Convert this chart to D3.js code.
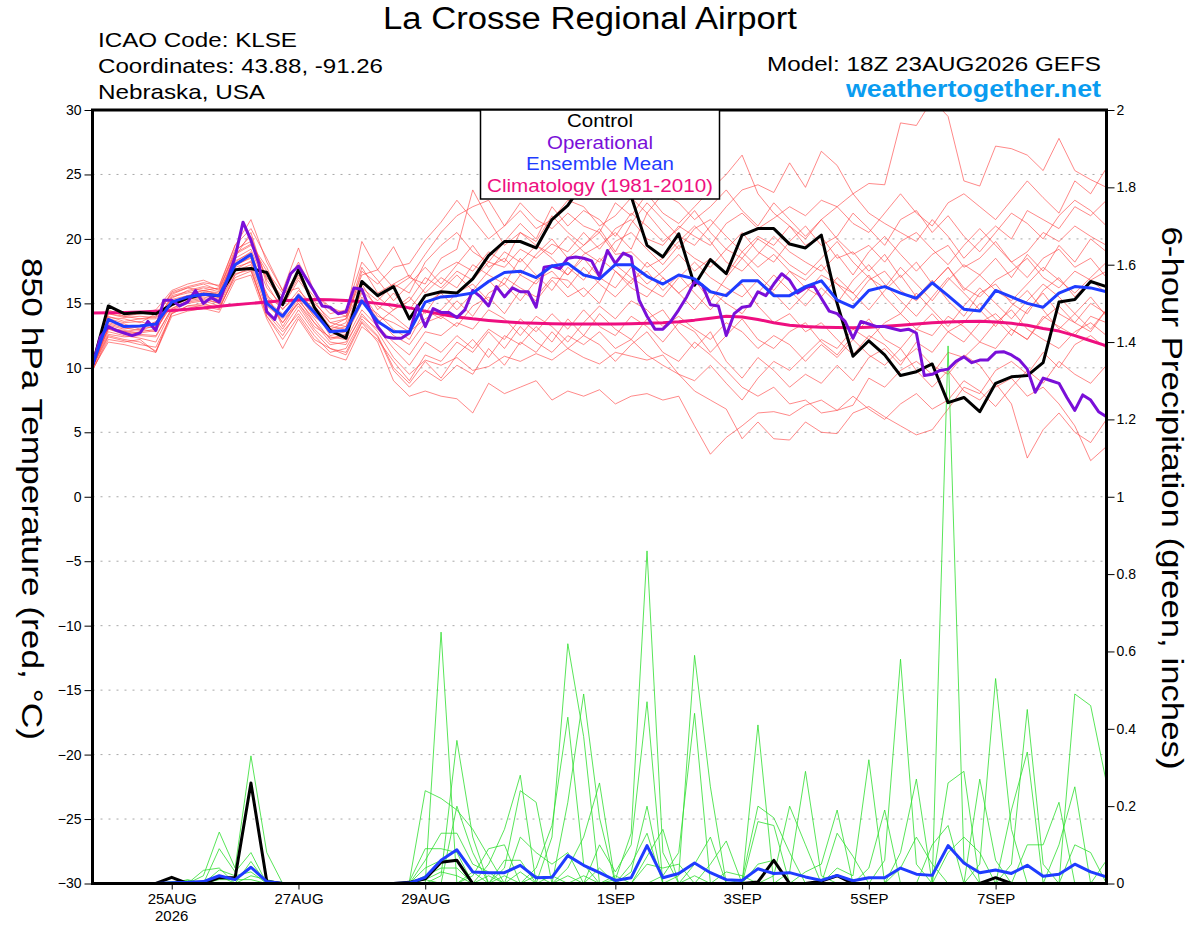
<!DOCTYPE html>
<html>
<head>
<meta charset="utf-8">
<script src="https://cdn.jsdelivr.net/npm/d3@7/dist/d3.min.js"></script>
<style>
body { margin: 0; background: #fff; }
svg text { font-family: "Liberation Sans", Arial, Helvetica, sans-serif; }
</style>
</head>
<body>
<svg id="chart" width="1200" height="927"></svg>
<script>
// ---- data (6-hourly from 18Z 23AUG2026, operational run is 3-hourly) ----
let runStart = '2026-08-23T18'
let tickDates = ['2026-08-25', '2026-08-27', '2026-08-29', '2026-09-01', '2026-09-03', '2026-09-05', '2026-09-07']
let tempTicks = [-30, -25, -20, -15, -10, -5, 0, 5, 10, 15, 20, 25, 30]
let precipTicks = [0, 0.2, 0.4, 0.6, 0.8, 1, 1.2, 1.4, 1.6, 1.8, 2]
let legendLabels = ['Control', 'Operational', 'Ensemble Mean', 'Climatology (1981-2010)']

let controlT = [10.2, 14.8, 14.2, 14.3, 14.2, 14.9, 15.4, 15.7, 15.6, 17.6,
    17.7, 17.4, 14.9, 17.6, 14.7, 12.9, 12.3, 16.7, 15.6, 16.3,
    13.8, 15.6, 15.9, 15.8, 16.9, 18.7, 19.8, 19.8, 19.3, 21.5,
    22.6, 24.4, 25.5, 25.2, 23.3, 19.5, 18.6, 20.4, 16.4, 18.4,
    17.3, 20.3, 20.8, 20.8, 19.6, 19.3, 20.3, 15.0, 10.9, 12.1,
    11.0, 9.4, 9.7, 10.3, 7.3, 7.7, 6.6, 8.8, 9.3, 9.4,
    10.4, 15.1, 15.3, 16.7, 16.3]

let meanT = [10.2, 13.75, 13.2, 13.25, 13.4, 15.1, 15.5, 15.7, 15.6, 18.0,
    18.8, 15.0, 14.0, 15.6, 14.3, 12.8, 12.9, 15.2, 13.6, 12.8,
    12.8, 15.1, 15.5, 15.6, 15.8, 16.7, 17.4, 17.5, 17.0, 17.9,
    18.1, 17.2, 16.9, 18.0, 18.0, 17.1, 16.5, 17.2, 16.9, 15.9,
    15.6, 16.75, 16.75, 15.6, 15.6, 16.3, 16.75, 15.25, 14.7, 16.0,
    16.3, 15.8, 15.4, 16.6, 15.6, 14.55, 14.4, 16.0, 15.5, 15.0,
    14.7, 15.8, 16.3, 16.2, 15.9]

let climT = [14.25, 14.28, 14.3, 14.33, 14.38, 14.45, 14.55, 14.65, 14.78, 14.9,
    15.0, 15.1, 15.2, 15.27, 15.3, 15.28, 15.22, 15.12, 15.0, 14.85,
    14.65, 14.4, 14.15, 13.95, 13.8, 13.68, 13.58, 13.5, 13.45, 13.42,
    13.4, 13.4, 13.4, 13.4, 13.42, 13.45, 13.5, 13.58, 13.7, 13.85,
    14.0, 13.95, 13.75, 13.5, 13.3, 13.2, 13.15, 13.12, 13.1, 13.15,
    13.22, 13.3, 13.4, 13.5, 13.55, 13.6, 13.62, 13.55, 13.45, 13.3,
    13.05, 12.85, 12.5, 12.1, 11.7]

// operational, 3-hourly
let operT = [10.2, 12.4, 13.2, 12.9, 12.7, 12.5, 12.7, 13.6, 12.9, 15.25,
    15.25, 14.8, 15.1, 16.0, 15.0, 15.45, 15.1, 16.8, 18.6, 21.3,
    19.9, 18.1, 14.35, 13.75, 15.6, 17.3, 17.9, 16.9, 15.9, 14.8,
    14.7, 14.2, 14.35, 16.2, 16.1, 14.5, 13.2, 12.4, 12.3, 12.3,
    12.7, 14.8, 13.2, 14.6, 14.3, 14.3, 13.9, 14.5, 16.0, 15.5,
    14.8, 16.3, 15.5, 16.2, 15.9, 15.9, 14.7, 17.8, 17.9, 17.7,
    18.5, 18.6, 18.5, 18.3, 17.1, 19.1, 18.1, 18.9, 18.6, 15.25,
    14.0, 13.0, 13.0, 13.6, 14.5, 15.5, 16.7, 16.4, 14.9, 14.8,
    12.5, 14.2, 14.7, 14.8, 15.9, 15.6, 16.5, 17.3, 16.8, 15.8,
    16.2, 16.4, 15.4, 14.4, 14.2, 13.6, 12.3, 13.6, 13.4, 13.2,
    13.2, 13.05, 12.9, 13.0, 12.7, 9.4, 9.5, 9.8, 9.9, 10.5,
    10.85, 10.4, 10.6, 10.6, 11.2, 11.25, 11.0, 10.6, 9.9, 8.1,
    9.2, 9.0, 8.8, 7.7, 6.7, 7.9, 7.5, 6.6, 6.2]

// perturbed members, 850 hPa temperature
let membersT = [
    [10.0, 12.5, 12.2, 12.0, 11.3, 14.2, 14.8, 15.0, 14.6,
     17.2, 17.8, 14.0, 12.5, 14.5, 12.8, 11.5, 11.0,
     13.5, 12.0, 9.0, 7.8, 8.2, 7.8,
     7.6, 6.5, 8.8, 8.0, 8.5, 9.0, 7.5, 8.2,
     7.8, 8.3, 7.2, 7.8, 8.0, 7.5, 7.8, 5.5,
     3.3, 4.6, 5.5, 6.5, 6.6, 6.3,
     7.1, 7.5, 6.7, 7.1, 9.2, 8.5, 9.8, 10.5,
     9.5, 11.2, 10.8, 12.0, 11.5, 13.0, 12.2, 14.0, 13.2, 12.5, 14.0, 13.5],
    [10.3, 13.0, 12.8, 12.6, 12.5, 14.6, 15.2, 15.4, 15.0,
     18.2, 19.0, 15.5, 13.5, 15.0, 13.5, 12.0, 11.8,
     14.2, 12.8, 10.8, 9.5, 10.6, 10.2,
     10.8, 9.8, 10.1, 10.9, 10.5, 11.1, 10.6, 11.5,
     10.8, 10.3, 11.2, 10.9, 10.6, 11.0, 9.5, 8.2,
     7.5, 6.8, 4.5, 5.8, 4.5, 4.4,
     5.8, 5.0, 4.9, 6.5, 7.0, 6.2, 5.5, 4.8,
     5.2, 6.8, 8.5, 8.0, 9.8, 10.5, 9.5, 11.2, 10.0, 11.8, 12.5, 11.5],
    [10.1, 14.2, 14.0, 13.8, 14.0, 15.8, 16.2, 16.5, 16.0,
     19.0, 20.2, 16.8, 15.2, 17.2, 15.0, 13.8, 14.0,
     16.8, 15.5, 14.5, 15.2, 17.0, 16.2,
     17.5, 16.8, 18.2, 17.8, 19.2, 18.5, 19.6, 19.0,
     20.5, 19.2, 20.8, 21.5, 20.0, 19.5, 21.0, 20.2,
     19.5, 21.2, 22.0, 20.8, 21.6, 22.5,
     21.8, 23.0, 22.5, 23.5, 24.3, 24.2, 29.0, 28.8,
     30.8, 29.5, 24.5, 24.1, 27.2, 27.0, 26.5, 25.3, 27.8, 25.3, 24.6, 24.0],
    [10.0, 13.8, 13.5, 13.6, 13.2, 15.5, 15.8, 16.0, 15.8,
     18.8, 19.5, 17.5, 15.8, 16.2, 14.2, 13.0, 13.5,
     17.5, 16.5, 17.8, 18.1, 19.9, 21.3,
     23.0, 21.5, 20.0, 21.0, 22.8, 21.5, 20.8, 22.0,
     21.0, 20.5, 22.8, 21.8, 23.5, 22.0, 21.2, 22.5,
     23.8, 25.0, 26.5, 23.5, 22.0, 21.0,
     19.5, 20.2, 18.5, 19.0, 17.5, 18.8, 17.0, 18.2,
     16.5, 17.8, 16.0, 17.2, 18.5, 17.0, 18.8, 17.5, 19.5, 18.2, 20.0, 19.0],
    [10.4, 14.5, 14.0, 14.2, 14.5, 16.0, 16.5, 16.8, 16.3,
     19.5, 20.8, 18.5, 16.0, 19.3, 15.8, 14.7, 14.2,
     19.8, 17.6, 16.2, 17.0, 16.5, 18.5,
     19.2, 23.8, 21.5, 19.5, 20.5, 19.8, 21.8, 20.5,
     19.5, 20.8, 19.0, 21.2, 22.8, 21.5, 20.2, 19.5,
     21.0, 22.5, 23.8, 24.2, 23.6, 25.9,
     24.0, 26.8, 25.7, 23.5, 22.0, 21.2, 20.5, 19.8,
     21.5, 20.2, 18.5, 19.8, 21.0, 20.0, 22.2, 21.5, 20.8, 22.5, 21.8, 23.0],
    [9.9, 13.2, 12.8, 13.0, 12.8, 15.2, 15.5, 15.8, 15.4,
     18.0, 18.5, 15.0, 14.0, 15.8, 14.5, 12.5, 12.8,
     15.5, 13.8, 12.5, 11.8, 13.5, 14.0,
     13.2, 14.8, 15.5, 14.2, 16.0, 15.2, 16.8, 15.5,
     16.2, 15.0, 17.5, 16.5, 18.2, 17.0, 15.8, 16.8,
     15.2, 17.0, 18.5, 17.2, 16.0, 17.5,
     16.2, 15.5, 17.0, 15.8, 14.5, 16.0, 17.2, 15.5,
     16.8, 15.2, 14.0, 15.8, 16.5, 15.0, 14.2, 16.0, 17.0, 15.5, 16.8, 17.5],
    [10.0, 12.8, 12.5, 12.3, 12.0, 14.5, 15.0, 15.2, 14.8,
     17.5, 18.0, 14.5, 13.0, 14.8, 13.0, 11.8, 12.0,
     14.0, 13.0, 11.5, 10.2, 12.0, 11.2,
     12.5, 11.5, 13.0, 12.2, 13.8, 12.8, 14.2, 13.0,
     14.5, 13.2, 12.5, 14.0, 13.2, 12.0, 13.5, 12.8,
     11.2, 12.5, 13.8, 12.2, 11.5, 12.8,
     13.5, 12.0, 11.0, 12.5, 13.8, 12.2, 11.5, 13.0,
     14.2, 12.8, 13.5, 15.0, 13.8, 12.5, 14.5, 15.8, 14.2, 13.5, 15.0, 14.2],
    [10.2, 13.5, 13.2, 13.3, 13.5, 15.6, 15.9, 16.2, 15.9,
     18.5, 19.2, 16.2, 14.8, 16.8, 15.2, 13.5, 13.2,
     16.5, 14.5, 15.8, 14.5, 16.2, 17.5,
     18.2, 17.5, 19.0, 18.2, 20.5, 19.5, 18.8, 20.2,
     19.0, 18.2, 19.8, 20.5, 19.2, 18.0, 19.5, 18.5,
     17.8, 19.2, 20.5, 19.0, 18.2, 19.8,
     21.0, 19.5, 20.2, 22.0, 20.8, 19.5, 21.5, 22.2,
     20.5, 21.8, 20.2, 19.0, 20.5, 22.0, 21.2, 20.0, 21.8, 23.0, 22.2, 21.0],
    [10.1, 13.0, 12.6, 12.8, 13.0, 14.8, 15.3, 15.5, 15.2,
     17.8, 18.2, 15.8, 13.2, 15.2, 13.8, 12.2, 12.5,
     15.0, 14.2, 13.0, 12.2, 14.5, 13.8,
     15.2, 14.0, 15.8, 16.5, 15.2, 16.8, 17.5, 16.2,
     17.8, 16.5, 15.5, 16.8, 17.5, 16.0, 17.2, 15.8,
     14.5, 15.8, 16.5, 14.8, 13.5, 14.2,
     12.8, 13.5, 12.2, 11.0, 12.5, 11.8, 10.5, 11.5,
     10.2, 9.5, 11.0, 10.2, 8.5, 9.2, 7.8, 8.5, 7.2, 5.5, 2.8, 3.9],
    [10.3, 14.0, 13.6, 13.8, 13.8, 15.4, 16.0, 16.3, 16.1,
     19.2, 19.8, 17.0, 15.5, 17.5, 14.8, 13.2, 13.8,
     17.8, 15.8, 16.5, 15.8, 18.2, 19.5,
     20.5, 19.0, 18.2, 19.8, 21.2, 20.0, 22.5, 21.0,
     22.2, 21.5, 20.2, 22.0, 21.0, 19.8, 20.8, 22.2,
     20.5, 19.2, 18.5, 20.0, 19.2, 18.0,
     17.2, 18.5, 19.8, 18.2, 17.0, 16.2, 17.8, 16.5,
     15.2, 16.8, 18.0, 17.2, 16.0, 15.2, 16.5, 17.8, 16.8, 15.8, 17.0, 18.2],
    [9.8, 12.2, 12.0, 12.2, 11.2, 14.3, 14.6, 14.9, 14.7,
     17.0, 17.5, 14.2, 12.8, 14.2, 12.5, 11.2, 11.5,
     13.8, 12.5, 10.0, 8.8, 10.5, 9.2,
     11.0, 12.2, 10.8, 12.5, 11.8, 13.2, 12.0, 13.8,
     12.5, 14.2, 13.0, 12.2, 13.8, 14.5, 12.8, 11.5,
     12.8, 10.5, 9.2, 10.8, 9.8, 8.5,
     9.5, 8.8, 10.2, 9.0, 10.8, 11.5, 10.2, 12.0,
     11.2, 12.8, 12.0, 13.5, 14.2, 13.0, 12.2, 13.8, 14.8, 13.5, 12.8, 14.5],
    [10.0, 13.3, 13.0, 13.2, 13.1, 15.0, 15.6, 15.6, 15.5,
     18.3, 18.9, 15.2, 14.2, 15.5, 14.0, 13.2, 13.0,
     16.0, 14.8, 14.0, 13.0, 15.0, 15.8,
     14.5, 15.8, 16.8, 15.5, 17.2, 16.5, 18.0, 17.2,
     18.5, 17.0, 16.2, 17.8, 16.5, 17.5, 18.8, 17.5,
     18.5, 17.2, 19.0, 20.2, 19.5, 21.0,
     20.0, 21.5, 22.5, 21.2, 20.5, 22.0, 23.5, 22.0,
     21.0, 22.8, 23.5, 22.5, 21.5, 23.0, 24.5, 23.2, 22.0, 24.5, 23.5, 25.5],
    [10.2, 13.6, 13.4, 13.0, 13.6, 15.3, 15.6, 16.0, 15.7,
     18.6, 20.5, 16.5, 14.5, 16.0, 14.8, 13.5, 13.8,
     16.2, 15.2, 16.5, 17.2, 15.8, 17.0,
     16.2, 18.0, 17.2, 16.5, 18.5, 17.2, 16.0, 17.8,
     16.8, 18.5, 17.5, 16.2, 15.5, 17.0, 15.8, 14.5,
     16.0, 15.0, 14.2, 15.8, 17.2, 16.0,
     14.8, 16.2, 15.0, 16.8, 18.0, 16.5, 15.2, 14.0,
     15.5, 17.0, 15.8, 14.5, 13.2, 14.8, 16.0, 14.5, 13.0, 14.2, 15.5, 14.0],
    [10.1, 12.6, 12.4, 12.5, 12.4, 14.6, 15.1, 15.3, 15.0,
     17.6, 18.3, 14.8, 13.8, 15.0, 13.2, 12.4, 12.2,
     14.5, 13.2, 12.0, 11.0, 12.8, 12.5,
     13.5, 13.0, 14.5, 13.8, 12.5, 14.0, 13.2, 12.0,
     13.5, 14.8, 13.8, 15.2, 14.5, 13.2, 14.0, 13.0,
     12.2, 13.5, 12.8, 11.5, 12.5, 11.8,
     10.5, 11.8, 10.8, 12.2, 11.0, 10.2, 11.5, 9.8,
     8.5, 9.8, 8.2, 7.5, 8.8, 7.2, 3.0, 5.2, 6.5, 5.0, 4.2, 6.0],
    [10.2, 13.9, 13.8, 13.5, 14.2, 15.7, 16.2, 16.0, 16.2,
     18.9, 19.6, 17.8, 15.0, 17.0, 15.5, 14.2, 14.5,
     18.2, 16.8, 15.2, 16.5, 17.8, 16.5,
     18.0, 19.5, 17.8, 18.5, 17.2, 18.8, 20.0, 18.5,
     19.5, 20.5, 18.8, 19.0, 17.8, 18.5, 19.8, 21.0,
     19.8, 18.2, 17.5, 18.8, 20.2, 19.0,
     18.2, 17.5, 18.8, 17.2, 19.0, 20.2, 18.8, 17.5,
     18.8, 19.5, 17.8, 18.5, 19.8, 18.2, 17.0, 18.5, 19.2, 17.8, 18.5, 17.0],
    [9.9, 12.0, 11.8, 11.5, 11.2, 14.0, 14.4, 14.6, 14.3,
     16.8, 17.2, 13.8, 11.5, 13.8, 12.0, 11.0, 10.6,
     13.2, 12.2, 10.5, 9.0, 11.0, 10.5,
     12.0, 11.2, 12.8, 11.5, 13.2, 12.0, 11.2, 12.5,
     11.8, 12.8, 11.5, 12.2, 11.0, 10.2, 9.5, 9.0,
     10.2, 8.8, 7.5, 9.2, 10.5, 9.8,
     11.0, 12.2, 11.5, 13.0, 12.2, 13.5, 14.2, 13.0,
     12.5, 14.0, 13.2, 12.0, 13.5, 14.5, 13.0, 12.2, 11.5, 12.8, 13.5, 12.5],
    [10.3, 14.2, 13.9, 14.0, 13.9, 15.9, 16.3, 16.6, 16.4,
     19.5, 21.5, 18.2, 16.0, 18.2, 15.8, 14.5, 14.0,
     17.2, 17.6, 19.4, 17.0, 18.8, 20.5,
     21.8, 22.5, 23.0, 21.0, 22.2, 20.8, 21.5, 23.0,
     22.5, 21.0, 21.8, 23.2, 22.0, 23.5, 22.8, 21.5,
     22.5, 23.8, 22.2, 21.0, 22.8, 21.5,
     20.2, 21.5, 20.0, 18.8, 19.5, 18.2, 19.8, 20.5,
     19.2, 18.0, 19.5, 20.8, 19.5, 18.2, 19.0, 20.5, 19.8, 21.0, 20.2, 19.5],
    [10.0, 13.4, 13.1, 12.9, 13.3, 15.1, 15.4, 15.9, 15.6,
     18.1, 18.7, 15.6, 14.6, 15.6, 14.0, 12.9, 13.2,
     15.8, 14.0, 13.5, 12.8, 13.8, 14.5,
     15.8, 16.5, 15.2, 17.0, 16.2, 15.5, 17.0, 16.8,
     15.5, 16.8, 18.0, 17.0, 16.2, 15.5, 17.0, 18.2,
     17.0, 16.2, 15.5, 16.8, 15.8, 14.5,
     15.8, 17.2, 16.5, 15.2, 16.8, 17.5, 16.0, 15.2,
     16.5, 17.8, 16.2, 15.5, 16.8, 17.5, 18.5, 17.0, 16.2, 17.5, 16.8, 15.8],
    [9.8, 12.4, 12.1, 11.8, 11.6, 14.2, 14.8, 14.8, 14.5,
     17.3, 17.6, 14.0, 12.2, 14.0, 12.2, 11.5, 11.2,
     13.6, 12.4, 9.8, 8.5, 9.8, 9.0,
     10.2, 9.5, 11.5, 10.2, 12.0, 11.2, 12.8, 11.5,
     12.5, 11.8, 10.5, 11.8, 12.8, 11.2, 10.5, 12.0,
     11.0, 9.8, 8.5, 7.8, 8.5, 7.2,
     7.5, 6.5, 6.7, 7.8, 6.8, 6.0, 7.2, 8.0,
     6.8, 7.5, 9.0, 8.2, 7.0, 8.5, 9.8, 8.8, 10.5, 9.5, 8.8, 10.2],
    [10.1, 13.1, 12.9, 12.7, 12.9, 15.0, 15.3, 15.7, 15.3,
     17.9, 18.6, 15.2, 13.5, 15.4, 13.5, 12.3, 12.6,
     15.2, 13.5, 14.5, 15.5, 14.2, 16.0,
     17.2, 16.0, 17.5, 19.0, 18.2, 19.5, 18.5, 17.2,
     18.8, 19.5, 20.5, 19.2, 22.0, 20.5, 19.2, 20.8,
     21.5, 20.2, 19.0, 17.8, 18.8, 17.5,
     16.8, 18.0, 16.5, 15.8, 17.2, 15.5, 14.2, 15.8,
     14.5, 13.2, 14.8, 16.2, 15.0, 13.8, 15.2, 16.5, 15.5, 14.2, 13.0, 14.5]
]

// 6-hour precipitation (inches)
let controlP = [0, 0, 0, 0, 0, 0.016, 0, 0, 0.015, 0.015,
    0.26, 0.005, 0, 0, 0, 0, 0, 0, 0, 0,
    0.003, 0.012, 0.055, 0.06, 0, 0, 0, 0, 0, 0,
    0, 0, 0, 0, 0, 0, 0, 0, 0, 0,
    0, 0, 0.004, 0.06, 0, 0, 0.006, 0.02, 0, 0,
    0, 0, 0, 0, 0, 0, 0, 0.015, 0, 0,
    0, 0, 0, 0, 0]

let meanP = [0, 0, 0, 0, 0, 0.002, 0.003, 0.005, 0.02, 0.01,
    0.042, 0.005, 0, 0, 0, 0, 0, 0, 0, 0,
    0.001, 0.016, 0.06, 0.087, 0.03, 0.028, 0.028, 0.047, 0.015, 0.016,
    0.072, 0.047, 0.028, 0.008, 0.015, 0.098, 0.015, 0.026, 0.053, 0.028,
    0.01, 0.008, 0.038, 0.026, 0.028, 0.017, 0.008, 0.021, 0.007, 0.015,
    0.015, 0.04, 0.024, 0.021, 0.098, 0.053, 0.028, 0.035, 0.026, 0.047,
    0.019, 0.024, 0.05, 0.03, 0.017]

let membersP = [
    [0, 0, 0, 0, 0, 0, 0, 0.02, 0.133, 0.04,  0.33, 0.08, 0, 0, 0, 0, 0, 0, 0, 0,
     0.005, 0.24, 0.22, 0.19, 0.14, 0.07, 0, 0, 0, 0.02,  0, 0, 0, 0, 0, 0, 0, 0, 0.02, 0,
     0, 0, 0, 0, 0, 0, 0, 0, 0, 0,  0, 0, 0, 0, 0, 0, 0, 0, 0, 0.1,  0.1, 0.21, 0, 0, 0],
    [0, 0, 0, 0, 0, 0, 0, 0, 0.09, 0.03,  0.08, 0, 0, 0, 0, 0, 0, 0, 0, 0,
     0.005, 0.09, 0.09, 0.08, 0, 0, 0.06, 0.06, 0, 0,  0, 0, 0, 0, 0, 0, 0, 0, 0, 0,
     0, 0.01, 0.2, 0.17, 0.08, 0, 0, 0, 0, 0,  0, 0, 0, 0, 0, 0, 0, 0, 0, 0,  0, 0.1, 0.25, 0, 0],
    [0, 0, 0, 0, 0, 0, 0, 0.034, 0.04, 0,  0.057, 0, 0, 0, 0, 0, 0, 0, 0, 0,
     0, 0.06, 0.13, 0.13, 0.05, 0.03, 0, 0, 0, 0,  0.02, 0, 0, 0, 0, 0, 0, 0, 0, 0,
     0, 0, 0.05, 0.06, 0, 0, 0, 0, 0, 0,  0, 0, 0, 0, 0, 0, 0, 0, 0, 0,  0, 0, 0.49, 0.46, 0.26],
    [0, 0, 0, 0, 0, 0, 0, 0, 0.035, 0.02,  0.03, 0, 0, 0, 0, 0, 0, 0, 0, 0,
     0, 0.04, 0.06, 0.06, 0, 0.02, 0, 0, 0, 0,  0, 0.02, 0, 0, 0, 0, 0, 0, 0, 0,
     0, 0, 0, 0.02, 0.2, 0.1, 0, 0, 0, 0,  0, 0, 0, 0, 0, 0, 0, 0, 0, 0,  0, 0, 0.1, 0.08, 0],
    [0, 0, 0, 0, 0, 0, 0.01, 0, 0.02, 0,  0.02, 0.01, 0, 0, 0, 0, 0, 0, 0, 0,
     0, 0.02, 0.04, 0.04, 0, 0, 0.02, 0, 0, 0,  0, 0, 0.04, 0, 0, 0, 0, 0, 0, 0,
     0, 0, 0, 0, 0.03, 0.29, 0.02, 0, 0, 0,  0, 0, 0, 0, 0, 0, 0, 0, 0, 0,  0, 0, 0, 0, 0.06],
    [0, 0, 0, 0, 0, 0.005, 0.008, 0, 0.01, 0.01,  0.01, 0, 0, 0, 0, 0, 0, 0, 0, 0,
     0, 0.01, 0.03, 0.02, 0, 0, 0, 0.03, 0, 0,  0, 0, 0, 0.02, 0, 0, 0, 0, 0, 0,
     0, 0, 0, 0, 0, 0.03, 0.05, 0.19, 0, 0,  0, 0, 0, 0, 0, 0, 0, 0, 0, 0,  0, 0, 0, 0, 0],
    [0, 0, 0, 0, 0, 0, 0, 0, 0, 0,  0, 0, 0, 0, 0, 0, 0, 0, 0, 0,
     0, 0.01, 0, 0, 0.03, 0, 0, 0, 0.02, 0,  0, 0, 0, 0, 0.05, 0.13, 0, 0, 0, 0,
     0, 0, 0, 0, 0, 0, 0, 0.13, 0.07, 0,  0, 0, 0, 0, 0, 0, 0, 0, 0, 0,  0, 0, 0, 0, 0],
    [0, 0, 0, 0, 0, 0, 0, 0, 0, 0,  0, 0, 0, 0, 0, 0, 0, 0, 0, 0,
     0, 0, 0.65, 0, 0, 0, 0, 0, 0, 0,  0, 0, 0, 0, 0.03, 0.2, 0, 0, 0, 0,
     0, 0, 0, 0, 0, 0, 0, 0.04, 0.02, 0.32,  0, 0, 0, 0, 0, 0, 0, 0, 0, 0,  0, 0, 0, 0, 0],
    [0, 0, 0, 0, 0, 0, 0, 0, 0, 0,  0, 0, 0, 0, 0, 0, 0, 0, 0, 0,
     0, 0, 0.02, 0.37, 0.12, 0, 0, 0, 0, 0,  0, 0, 0, 0, 0, 0.07, 0.14, 0, 0, 0,
     0, 0, 0, 0, 0, 0, 0, 0, 0, 0.04,  0.19, 0, 0, 0, 0, 0, 0, 0, 0, 0,  0, 0, 0, 0, 0],
    [0, 0, 0, 0, 0, 0, 0, 0, 0, 0,  0, 0, 0, 0, 0, 0, 0, 0, 0, 0,
     0, 0, 0, 0.2, 0.08, 0, 0, 0, 0, 0,  0, 0, 0, 0, 0, 0.05, 0.04, 0.05, 0, 0,
     0, 0, 0, 0, 0, 0, 0, 0, 0, 0,  0.06, 0.58, 0.05, 0, 0, 0, 0, 0, 0, 0,  0, 0, 0, 0, 0],
    [0, 0, 0, 0, 0, 0, 0, 0, 0, 0,  0, 0, 0, 0, 0, 0, 0, 0, 0, 0,
     0, 0, 0, 0, 0.02, 0.09, 0.1, 0, 0, 0,  0, 0, 0, 0, 0, 0, 0.02, 0.08, 0.44, 0,
     0, 0, 0, 0, 0, 0, 0, 0, 0, 0,  0, 0.08, 0.27, 0, 0, 0, 0, 0, 0, 0,  0, 0, 0, 0, 0],
    [0, 0, 0, 0, 0, 0, 0, 0, 0, 0,  0, 0, 0, 0, 0, 0, 0, 0, 0, 0,
     0, 0, 0, 0, 0, 0.05, 0.14, 0.28, 0, 0,  0, 0, 0, 0, 0, 0, 0, 0.02, 0.59, 0.25,
     0, 0, 0, 0, 0, 0, 0, 0, 0, 0,  0, 0.04, 0.12, 0.05, 0, 0, 0, 0, 0, 0,  0, 0, 0, 0, 0],
    [0, 0, 0, 0, 0, 0, 0, 0, 0, 0,  0, 0, 0, 0, 0, 0, 0, 0, 0, 0,
     0, 0, 0, 0, 0, 0, 0.04, 0.24, 0.21, 0,  0, 0, 0, 0, 0, 0, 0, 0, 0.05, 0.12,
     0, 0, 0, 0, 0, 0, 0, 0, 0, 0,  0, 0, 0, 0.1, 0.15, 0, 0, 0, 0, 0,  0, 0, 0, 0, 0],
    [0, 0, 0, 0, 0, 0, 0, 0, 0, 0,  0, 0, 0, 0, 0, 0, 0, 0, 0, 0,
     0, 0, 0, 0, 0, 0, 0, 0.12, 0.08, 0.05,  0.08, 0, 0, 0, 0, 0, 0, 0, 0, 0.05,
     0.11, 0, 0, 0, 0, 0, 0, 0, 0, 0,  0, 0, 0, 0, 1.39, 0.06, 0, 0, 0, 0,  0, 0, 0, 0, 0],
    [0, 0, 0, 0, 0, 0, 0, 0, 0, 0,  0, 0, 0, 0, 0, 0, 0, 0, 0, 0,
     0, 0, 0, 0, 0, 0, 0, 0, 0.04, 0.15,  0.43, 0.05, 0, 0, 0, 0, 0, 0, 0, 0,
     0.03, 0.02, 0, 0, 0, 0, 0, 0, 0, 0,  0, 0, 0, 0, 0.26, 0.29, 0, 0, 0, 0,  0, 0, 0, 0, 0],
    [0, 0, 0, 0, 0, 0, 0, 0, 0, 0,  0, 0, 0, 0, 0, 0, 0, 0, 0, 0,
     0, 0, 0, 0, 0, 0, 0, 0, 0, 0.12,  0.62, 0.38, 0, 0, 0, 0, 0, 0, 0, 0,
     0, 0, 0.41, 0, 0, 0, 0, 0, 0, 0,  0, 0, 0, 0, 0.08, 0.12, 0.08, 0, 0, 0,  0, 0, 0, 0, 0],
    [0, 0, 0, 0, 0, 0, 0, 0, 0, 0,  0, 0, 0, 0, 0, 0, 0, 0, 0, 0,
     0, 0, 0, 0, 0, 0, 0, 0, 0, 0,  0.21, 0.49, 0.17, 0, 0, 0, 0, 0, 0, 0,
     0, 0, 0.16, 0.15, 0, 0, 0, 0, 0, 0,  0, 0, 0, 0, 0, 0, 0.27, 0.06, 0, 0,  0, 0, 0, 0, 0],
    [0, 0, 0, 0, 0, 0, 0, 0, 0, 0,  0, 0, 0, 0, 0, 0, 0, 0, 0, 0,
     0, 0, 0, 0, 0, 0, 0, 0, 0, 0,  0.04, 0.12, 0.26, 0, 0, 0, 0, 0, 0, 0,
     0, 0, 0, 0, 0, 0, 0, 0, 0, 0,  0, 0, 0, 0, 0, 0, 0.05, 0.53, 0.14, 0,  0, 0, 0, 0, 0],
    [0, 0, 0, 0, 0, 0, 0, 0, 0, 0,  0, 0, 0, 0, 0, 0, 0, 0, 0, 0,
     0, 0, 0, 0, 0, 0, 0, 0, 0, 0,  0, 0, 0.1, 0.03, 0.1, 0.47, 0, 0, 0, 0,
     0, 0, 0, 0, 0, 0, 0, 0, 0, 0,  0, 0, 0, 0, 0, 0, 0, 0, 0.19, 0.34,  0, 0, 0, 0, 0],
    [0, 0, 0, 0, 0, 0, 0, 0, 0, 0,  0, 0, 0, 0, 0, 0, 0, 0, 0, 0,
     0, 0, 0, 0, 0, 0, 0, 0, 0, 0,  0, 0, 0, 0.01, 0.13, 0.86, 0.08, 0, 0, 0,
     0, 0, 0, 0, 0, 0, 0, 0, 0, 0,  0, 0, 0, 0, 0, 0, 0, 0, 0.05, 0.45,  0.05, 0, 0, 0, 0]
]

// ---- chart ----
let width = 1200
let height = 927
let plot = { left: 92.5, right: 1106.5, top: 110, bottom: 883.5 }

let parseHour = d3.utcParse('%Y-%m-%dT%H')
let parseDay = d3.utcParse('%Y-%m-%d')
let t0 = parseHour(runStart)
let timeAt = (hours) => new Date(t0.getTime() + hours * 3600e3)

let x = d3.scaleUtc()
    .domain([t0, timeAt(384)])
    .range([plot.left, plot.right])
let yT = d3.scaleLinear().domain([-30, 30]).range([plot.bottom, plot.top])
let yP = d3.scaleLinear().domain([0, 2]).range([plot.bottom, plot.top])

let colors = {
    member: '#ff4646',
    precip: '#2ede2e',
    control: '#000000',
    oper: '#7a0fd8',
    mean: '#1f3cff',
    clim: '#ee0f80'
}

let $svg = d3.select('#chart')
    .attr('width', width)
    .attr('height', height)

$svg.append('defs').append('clipPath').attr('id', 'plotClip')
    .append('rect')
    .attr('x', plot.left)
    .attr('y', plot.top)
    .attr('width', plot.right - plot.left)
    .attr('height', plot.bottom - plot.top)

// dotted grid at the temperature ticks
$svg.append('g').attr('class', 'grid')
    .selectAll('line')
    .data(tempTicks.filter(d => d > -30 && d < 30))
    .enter().append('line')
    .attr('x1', plot.left)
    .attr('x2', plot.right)
    .attr('y1', d => yT(d))
    .attr('y2', d => yT(d))
    .attr('stroke', '#a8a8a8')
    .attr('stroke-width', 1)
    .attr('stroke-dasharray', '2,6')

let lineT6 = d3.line().x((d, i) => x(timeAt(i * 6))).y(d => yT(d))
let lineT3 = d3.line().x((d, i) => x(timeAt(i * 3))).y(d => yT(d))
let lineP6 = d3.line().x((d, i) => x(timeAt(i * 6))).y(d => yP(d))

let $lines = $svg.append('g').attr('clip-path', 'url(#plotClip)')

$lines.append('g').attr('class', 'members-t')
    .selectAll('path')
    .data(membersT)
    .enter().append('path')
    .attr('d', lineT6)
    .attr('fill', 'none')
    .attr('stroke', colors.member)
    .attr('stroke-opacity', 0.85)
    .attr('stroke-width', 0.75)

$lines.append('g').attr('class', 'members-p')
    .selectAll('path')
    .data(membersP)
    .enter().append('path')
    .attr('d', lineP6)
    .attr('fill', 'none')
    .attr('stroke', colors.precip)
    .attr('stroke-width', 0.8)

function thick(d, line, color, w) {
    $lines.append('path')
        .datum(d)
        .attr('d', line)
        .attr('fill', 'none')
        .attr('stroke', color)
        .attr('stroke-width', w)
        .attr('stroke-linejoin', 'round')
}

thick(climT, lineT6, colors.clim, 3)
thick(controlT, lineT6, colors.control, 3)
thick(operT, lineT3, colors.oper, 3)
thick(meanT, lineT6, colors.mean, 3)
thick(controlP, lineP6, colors.control, 3)
thick(meanP, lineP6, colors.mean, 3)

// axes
let fmtDay = d3.utcFormat('%-d%b')
let xAxis = d3.axisBottom(x)
    .tickValues(tickDates.map(parseDay))
    .tickFormat(d => fmtDay(d).toUpperCase())
    .tickSize(6)
    .tickPadding(4)
let $xAxis = $svg.append('g')
    .attr('transform', `translate(0,${plot.bottom})`)
    .call(xAxis)
$xAxis.select('.domain').remove()
$xAxis.selectAll('text').attr('font-size', 15).attr('fill', '#000')
    .attr('font-family', '"Liberation Sans", Arial, sans-serif')
$xAxis.append('text')
    .attr('x', x(parseDay(tickDates[0])))
    .attr('y', 37)
    .attr('text-anchor', 'middle')
    .attr('font-size', 15)
    .attr('fill', '#000')
    .text(runStart.slice(0, 4))

let $yLeft = $svg.append('g')
    .attr('transform', `translate(${plot.left},0)`)
    .call(d3.axisLeft(yT).tickValues(tempTicks).tickSize(8).tickPadding(3))
$yLeft.select('.domain').remove()
$yLeft.selectAll('text').attr('font-size', 14).attr('fill', '#000')
    .attr('font-family', '"Liberation Sans", Arial, sans-serif')

let $yRight = $svg.append('g')
    .attr('transform', `translate(${plot.right},0)`)
    .call(d3.axisRight(yP).tickValues(precipTicks).tickFormat(d3.format('~g')).tickSize(8).tickPadding(2))
$yRight.select('.domain').remove()
$yRight.selectAll('text').attr('font-size', 14).attr('fill', '#000')
    .attr('font-family', '"Liberation Sans", Arial, sans-serif')

// frame
$svg.append('rect')
    .attr('x', plot.left)
    .attr('y', plot.top)
    .attr('width', plot.right - plot.left)
    .attr('height', plot.bottom - plot.top)
    .attr('fill', 'none')
    .attr('stroke', '#000')
    .attr('stroke-width', 3)

// legend box
let legendColors = [colors.control, colors.oper, colors.mean, colors.clim]
let legendWidths = [66, 106, 148, 226]
let $legend = $svg.append('g').attr('class', 'legend')
$legend.append('rect')
    .attr('x', 480.5)
    .attr('y', plot.top)
    .attr('width', 239)
    .attr('height', 89)
    .attr('fill', '#fff')
    .attr('stroke', '#000')
    .attr('stroke-width', 1.5)
$legend.selectAll('text')
    .data(legendLabels)
    .enter().append('text')
    .attr('x', 600)
    .attr('y', (d, i) => 127 + i * 21.5)
    .attr('text-anchor', 'middle')
    .attr('font-size', 17.5)
    .attr('fill', (d, i) => legendColors[i])
    .attr('textLength', (d, i) => legendWidths[i])
    .attr('lengthAdjust', 'spacingAndGlyphs')
    .text(d => d)

// header texts
function label(txt, px, py, size, anchor, len, opts) {
    let t = $svg.append('text')
        .attr('x', px)
        .attr('y', py)
        .attr('font-size', size)
        .attr('text-anchor', anchor)
        .attr('fill', (opts && opts.fill) || '#000')
        .text(txt)
    if (len) t.attr('textLength', len).attr('lengthAdjust', 'spacingAndGlyphs')
    if (opts && opts.bold) t.attr('font-weight', 'bold')
    if (opts && opts.rotate) t.attr('transform', `rotate(90,${px},${py})`)
    return t
}

label('La Crosse Regional Airport', 590, 29, 31, 'middle', 414)
label('ICAO Code: KLSE', 98, 47, 21, 'start', 199)
label('Coordinates: 43.88, -91.26', 98, 73, 21, 'start', 285)
label('Nebraska, USA', 98, 99, 21, 'start', 167)
label('Model: 18Z 23AUG2026 GEFS', 1101, 71, 21, 'end', 334)
label('weathertogether.net', 1101, 97, 24, 'end', 255, { bold: true, fill: '#0a9cf0' })

label('850 hPa Temperature (red, °C)', 21.7, 499, 29, 'middle', 482, { rotate: true })
label('6-hour Precipitation (green, inches)', 1161.7, 498, 29, 'middle', 543, { rotate: true })
</script>
</body>
</html>
